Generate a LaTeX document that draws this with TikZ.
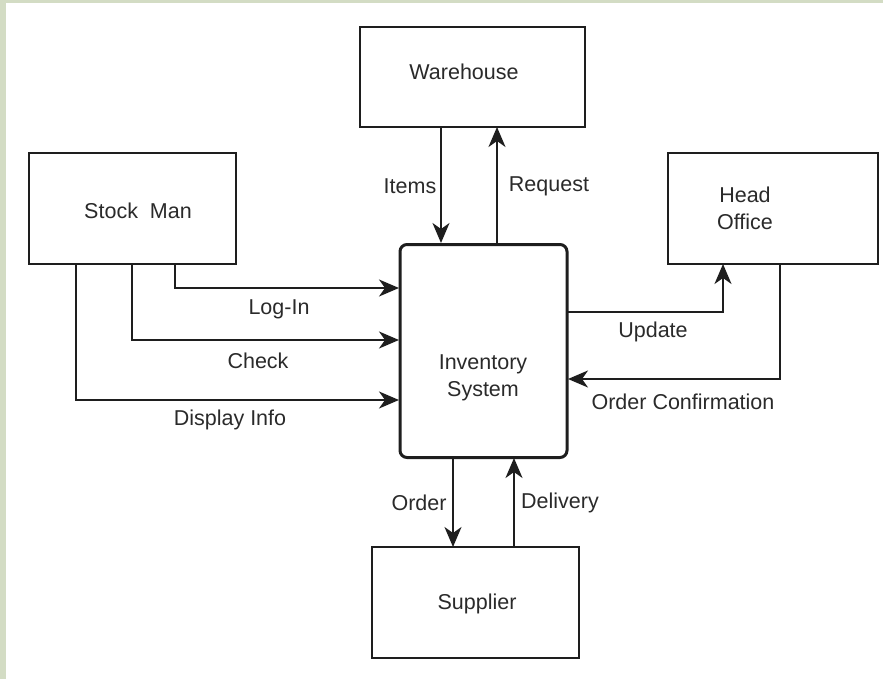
\documentclass[tikz,border=0pt]{standalone}
\usepackage{fontspec}
\setmainfont{Liberation Sans}
\usetikzlibrary{arrows.meta}
\definecolor{bordergreen}{HTML}{D3DCC4}
\definecolor{ink}{HTML}{1E1E1E}
\definecolor{txt}{HTML}{2A2A2A}
\begin{document}
\begin{tikzpicture}[x=1pt,y=-1pt,
  ent/.style={draw=ink,line width=2pt,fill=white,inner sep=0pt},
  flow/.style={draw=ink,line width=2pt,-{Stealth[length=20pt,width=17pt,inset=6pt]}},
  lbl/.style={font=\fontsize{21.5}{27}\selectfont,text=txt,inner sep=0pt,align=center}]
\useasboundingbox (0,0) rectangle (883,679);
\fill[bordergreen] (0,0) rectangle (883,3);
\fill[bordergreen] (0,0) rectangle (6,679);
% entities
\node[ent,minimum width=225pt,minimum height=100pt] (wh) at (472.5,77) {};
\node[ent,minimum width=207pt,minimum height=111pt] (sm) at (132.5,208.5) {};
\node[ent,minimum width=210pt,minimum height=111pt] (ho) at (773,208.5) {};
\node[ent,minimum width=207pt,minimum height=111pt] (su) at (475.5,602.5) {};
\node[ent,line width=3pt,rounded corners=7pt,minimum width=167pt,minimum height=213pt] (inv) at (483.5,351) {};
\node[lbl] (twh) at (464,72) {Warehouse};
\node[lbl] (tsm) at (138,211) {Stock\ \ Man};
\node[lbl] (tho) at (745,208) {Head\\Office};
\node[lbl] (tsu) at (477,604) {Supplier};
\node[lbl] (tinv) at (483,378) {Inventory\\System};
% coordinates
\coordinate (itT) at (441,127);
\coordinate (itB) at (441,243);
\coordinate (rqB) at (497,243);
\coordinate (rqT) at (497,127);
\coordinate (liS) at (175,264);
\coordinate (liC) at (175,288);
\coordinate (liE) at (399,288);
\coordinate (chS) at (132,264);
\coordinate (chC) at (132,340);
\coordinate (chE) at (399,340);
\coordinate (diS) at (76,264);
\coordinate (diC) at (76,400);
\coordinate (diE) at (399,400);
\coordinate (upS) at (567,312);
\coordinate (upC) at (723,312);
\coordinate (upE) at (723,264);
\coordinate (ocS) at (780,264);
\coordinate (ocC) at (780,379);
\coordinate (ocE) at (568,379);
\coordinate (orS) at (453,458);
\coordinate (orE) at (453,547);
\coordinate (deS) at (514,547);
\coordinate (deE) at (514,458);
% flows
\draw[flow] (itT) -- (itB);
\draw[flow] (rqB) -- (rqT);
\draw[flow] (liS) -- (liC) -- (liE);
\draw[flow] (chS) -- (chC) -- (chE);
\draw[flow] (diS) -- (diC) -- (diE);
\draw[flow] (upS) -- (upC) -- (upE);
\draw[flow] (ocS) -- (ocC) -- (ocE);
\draw[flow] (orS) -- (orE);
\draw[flow] (deS) -- (deE);
% labels
\node[lbl] (l1) at (410,186) {Items};
\node[lbl] (l2) at (549,186) {Request};
\node[lbl] (l3) at (279,309) {Log-In};
\node[lbl] (l4) at (258,361) {Check};
\node[lbl] (l5) at (230,420) {Display Info};
\node[lbl] (l6) at (653,332) {Update};
\node[lbl] (l7) at (683,402) {Order Confirmation};
\node[lbl] (l8) at (419,503) {Order};
\node[lbl] (l9) at (560,503) {Delivery};
\end{tikzpicture}
\end{document}
